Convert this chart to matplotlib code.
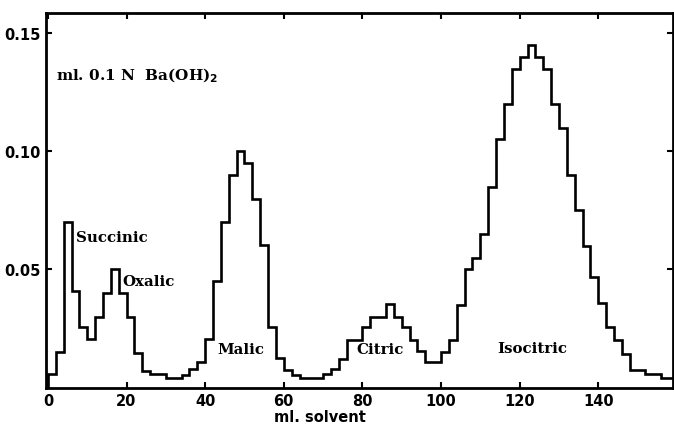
#!/usr/bin/env python3

import matplotlib

matplotlib.use("Agg")
import matplotlib.pyplot as plt

# fraction edges (ml. solvent), 2 ml fractions
edges = [0, 2, 4, 6, 8, 10, 12, 14, 16, 18, 20, 22, 24, 26, 28, 30, 32, 34, 36, 38,
         40, 42, 44, 46, 48, 50, 52, 54, 56, 58, 60, 62, 64, 66, 68, 70, 72, 74, 76, 78,
         80, 82, 84, 86, 88, 90, 92, 94, 96, 98, 100, 102, 104, 106, 108, 110, 112, 114, 116, 118,
         120, 122, 124, 126, 128, 130, 132, 134, 136, 138, 140, 142, 144, 146, 148, 150, 152, 154, 156, 158,
         160]

# ml. 0.1 N Ba(OH)2 per fraction
titr = [0.0058, 0.015, 0.070, 0.041, 0.0256, 0.0206, 0.030, 0.040, 0.050, 0.040,
        0.030, 0.0145, 0.0069, 0.0058, 0.0058, 0.0039, 0.0039, 0.0055, 0.008, 0.0107,
        0.0205, 0.045, 0.070, 0.090, 0.100, 0.095, 0.080, 0.0605, 0.0256, 0.0124,
        0.0075, 0.0055, 0.0041, 0.0041, 0.0041, 0.0057, 0.0079, 0.012, 0.020, 0.020,
        0.0256, 0.030, 0.030, 0.0355, 0.030, 0.0256, 0.020, 0.0154, 0.0107, 0.0107,
        0.015, 0.020, 0.035, 0.050, 0.055, 0.065, 0.085, 0.105, 0.120, 0.135,
        0.140, 0.145, 0.140, 0.135, 0.120, 0.110, 0.090, 0.075, 0.060, 0.047,
        0.0356, 0.0258, 0.0202, 0.0142, 0.0075, 0.0075, 0.0058, 0.0058, 0.0039, 0.0039]

acids = ["Succinic", "Oxalic", "Malic", "Citric", "Isocitric"]
acid_x = [7.2, 18.9, 49.2, 84.5, 123.3]
acid_y = [0.0636, 0.0453, 0.0165, 0.0165, 0.0168]
acid_ha = ["left", "left", "center", "center", "center"]

xticks = [0, 20, 40, 60, 80, 100, 120, 140]
yticks = [0.05, 0.10, 0.15]

fig = plt.figure(figsize=(6.74, 4.27), dpi=100)
ax = fig.add_axes([0.0682, 0.0900, 0.9303, 0.8770])

ax.stairs(titr, edges, baseline=0, color="black", linewidth=1.9)

ax.set_xlim(-0.5, 159)
ax.set_ylim(0, 0.1585)

ax.set_xticks(xticks)
ax.set_yticks(yticks)
ax.set_yticklabels(["%.2f" % v for v in yticks])
ax.tick_params(direction="in", length=4.5, width=1.5, top=True, right=True,
               labelsize=10.5, pad=4)
for lab in ax.get_xticklabels() + ax.get_yticklabels():
    lab.set_fontweight("bold")
for s in ax.spines.values():
    s.set_linewidth(2)

ax.set_xlabel("ml. solvent", fontsize=10.5, fontweight="bold")
ax.xaxis.set_label_coords(0.437, -0.058)

serif = dict(family="DejaVu Serif", fontweight="bold", fontsize=10.8)
for name, x, y, ha in zip(acids, acid_x, acid_y, acid_ha):
    ax.text(x, y, name, ha=ha, va="center", **serif)

ax.text(2.0, 0.1325, r"ml. 0.1 N  Ba(OH)$_\mathbf{2}$", ha="left", va="center",
        family="DejaVu Serif", fontweight="semibold", fontsize=11)

fig.savefig("out.png", dpi=100)
